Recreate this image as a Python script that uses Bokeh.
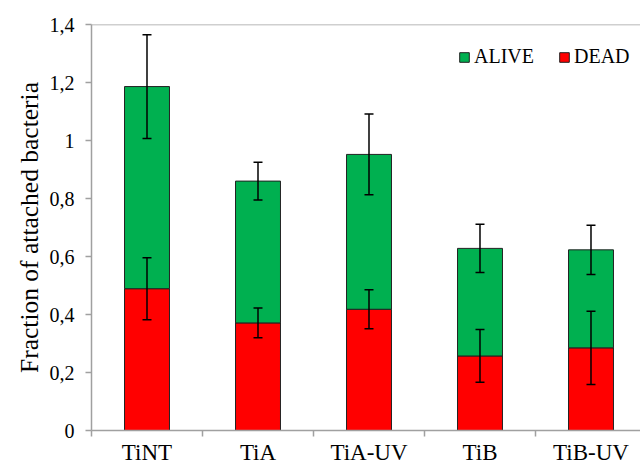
from bokeh.plotting import figure
from bokeh.models import (ColumnDataSource, Range1d, FixedTicker, CustomJSTickFormatter,
                          Whisker, TeeHead, Span, Legend, LegendItem)
from bokeh.embed import file_html
from bokeh.resources import INLINE

categories = ["TiNT", "TiA", "TiA-UV", "TiB", "TiB-UV"]
total = [1.186, 0.860, 0.952, 0.628, 0.623]
total_err = [0.179, 0.065, 0.139, 0.083, 0.085]
dead = [0.489, 0.371, 0.418, 0.257, 0.285]
dead_err = [0.107, 0.051, 0.067, 0.091, 0.126]
y_ticks = [0, 0.2, 0.4, 0.6, 0.8, 1.0, 1.2, 1.4]

x = [i + 0.5 for i in range(len(categories))]
src = ColumnDataSource(dict(
    x=x, total=total, dead=dead,
    t_up=[t + e for t, e in zip(total, total_err)],
    t_lo=[t - e for t, e in zip(total, total_err)],
    d_up=[d + e for d, e in zip(dead, dead_err)],
    d_lo=[d - e for d, e in zip(dead, dead_err)],
))

FONT = "Liberation Serif"
AX = "#a0a0a0"

p = figure(width=640, height=467, output_backend="svg", toolbar_location=None,
           x_range=Range1d(0, 4.946), y_range=Range1d(0, 1.4),
           min_border_left=91, min_border_right=0, min_border_top=24, min_border_bottom=37)
p.outline_line_color = None
p.xgrid.grid_line_color = None
p.ygrid.grid_line_color = None
p.background_fill_color = "white"

r_dead = p.vbar(x="x", width=0.405, bottom=0, top="dead", source=src,
                fill_color="#ff0000", line_color="#222222", line_width=1)
r_alive = p.vbar(x="x", width=0.405, bottom="dead", top="total", source=src,
                 fill_color="#00b050", line_color="#222222", line_width=1)

for up, lo in (("t_up", "t_lo"), ("d_up", "d_lo")):
    w = Whisker(base="x", upper=up, lower=lo, source=src, line_color="black", line_width=1.5,
                level="overlay",
                upper_head=TeeHead(size=9, line_color="black", line_width=1.5),
                lower_head=TeeHead(size=9, line_color="black", line_width=1.5))
    p.add_layout(w)

p.add_layout(Span(location=1.4, dimension="width", line_color=AX, line_width=1.5))

# y axis
p.yaxis.ticker = FixedTicker(ticks=y_ticks)
p.yaxis.formatter = CustomJSTickFormatter(code="""
    var s = (Math.round(tick*10)/10).toString();
    return s.replace('.', ',');
""")
p.yaxis.axis_label = "Fraction of attached bacteria"
p.yaxis.axis_label_text_font = FONT
p.yaxis.axis_label_text_font_size = "25.5px"
p.yaxis.axis_label_text_font_style = "normal"
p.yaxis.axis_label_text_color = "black"
p.yaxis.axis_label_standoff = 3
p.yaxis.major_label_text_font = FONT
p.yaxis.major_label_text_font_size = "20px"
p.yaxis.major_label_text_color = "black"
p.yaxis.major_label_standoff = 11
p.yaxis.major_tick_out = 6
p.yaxis.major_tick_in = 0
p.yaxis.minor_tick_line_color = None
p.yaxis.axis_line_color = AX
p.yaxis.axis_line_width = 1.5
p.yaxis.major_tick_line_color = AX
p.yaxis.major_tick_line_width = 1.5

# x axis
p.xaxis.ticker = FixedTicker(ticks=x, minor_ticks=list(range(len(categories) + 1)))
p.xaxis.formatter = CustomJSTickFormatter(args=dict(cats=categories),
                                          code="return cats[Math.floor(tick)];")
p.xaxis.major_label_text_font = FONT
p.xaxis.major_label_text_font_size = "23px"
p.xaxis.major_label_text_color = "black"
p.xaxis.major_label_text_line_height = 1.0
p.xaxis.major_label_standoff = 3
p.xaxis.major_tick_line_color = None
p.xaxis.major_tick_out = 0
p.xaxis.major_tick_in = 0
p.xaxis.minor_tick_out = 6
p.xaxis.minor_tick_in = 0
p.xaxis.minor_tick_line_color = AX
p.xaxis.minor_tick_line_width = 1.5
p.xaxis.axis_line_color = AX
p.xaxis.axis_line_width = 1.5

legend = Legend(items=[LegendItem(label="ALIVE", renderers=[r_alive]),
                       LegendItem(label="DEAD", renderers=[r_dead])],
                location=(367, 362), orientation="horizontal",
                glyph_width=12, glyph_height=12, label_height=12,
                label_standoff=4, spacing=24, padding=0, margin=0,
                border_line_color=None, background_fill_alpha=0,
                label_text_font=FONT, label_text_font_size="20px", label_text_color="black")
p.add_layout(legend)

open("out.html", "w").write(file_html(p, INLINE))
